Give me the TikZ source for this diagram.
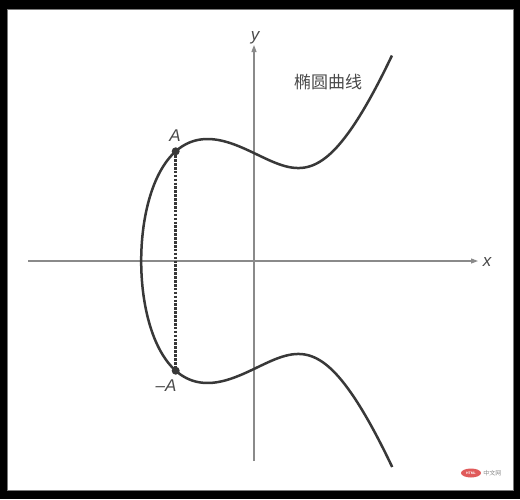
\documentclass[tikz,border=0pt]{standalone}
\usepackage{fontspec}
\setmainfont{Liberation Sans}
\newfontfamily\cjk{Noto Sans CJK SC}
\usetikzlibrary{arrows.meta,shapes.geometric}
\definecolor{curvegray}{HTML}{383838}
\definecolor{axisgray}{HTML}{8A8A8A}
\definecolor{labelgray}{HTML}{4A4A4A}
\definecolor{framegray}{HTML}{7A7A7A}
\definecolor{wmred}{HTML}{E05A5A}
\begin{document}
\begin{tikzpicture}[x=1pt,y=-1pt,
  axisline/.style={draw=axisgray, line width=1.1pt, -{Triangle[length=7pt,width=5pt]}},
  curveline/.style={draw=curvegray, line width=2.5pt, line join=round},
  dashline/.style={draw=curvegray, line width=2.6pt, dash pattern=on 2.6pt off 1.3pt},
  ptdot/.style={circle, fill=curvegray, inner sep=0pt, minimum size=8pt},
  lbl/.style={text=labelgray, font=\fontsize{17}{17}\selectfont\itshape, inner sep=0pt},
  cjklbl/.style={text=labelgray, font=\cjk\fontsize{17}{17}\selectfont, inner sep=0pt},
  declare function={ecq(\t)=166.8*\t*\t-559.21*\t+521.85;}]
\useasboundingbox (0,0) rectangle (520,499);
\fill[black] (0,0) rectangle (520,499);
\filldraw[fill=white, draw=framegray, line width=1pt] (7,9) rectangle (513,490);
% axes
\coordinate (xs) at (28,261);
\coordinate (xe) at (478,261);
\coordinate (ys) at (254,461);
\coordinate (ye) at (254,45);
\draw[axisline] (xs) -- (xe);
\draw[axisline] (ys) -- (ye);
\node[lbl] (xl) at (487,262) {x};
\node[lbl] (yl) at (255,38) {y};
% curve
\draw[curveline] plot[domain=-1:1, samples=241, smooth, variable=\s]
  ({141.2+251*\s*\s}, {261-10*\s*sqrt(2.51*ecq(2.51*\s*\s))});
% points
\node[ptdot] (A) at (175.7,151.3) {};
\node[ptdot] (mA) at (175.7,370.7) {};
\draw[dashline] (A.center) -- (mA.center);
\node[lbl] (Al) at (175,136) {A};
\node[lbl] (mAl) at (166,386) {\textendash A};
\node[cjklbl] (title) at (328,82) {椭圆曲线};
% watermark
\node[ellipse, fill=wmred, minimum width=20pt, minimum height=9pt, inner sep=0pt,
  text=white, font=\fontsize{3.5}{4}\selectfont\bfseries] (wm) at (471,473) {HTML};
\node[text=axisgray, font=\cjk\fontsize{6}{6}\selectfont, inner sep=0pt, anchor=west] (wmt) at ([xshift=2pt]wm.east) {中文网};
\end{tikzpicture}
\end{document}
